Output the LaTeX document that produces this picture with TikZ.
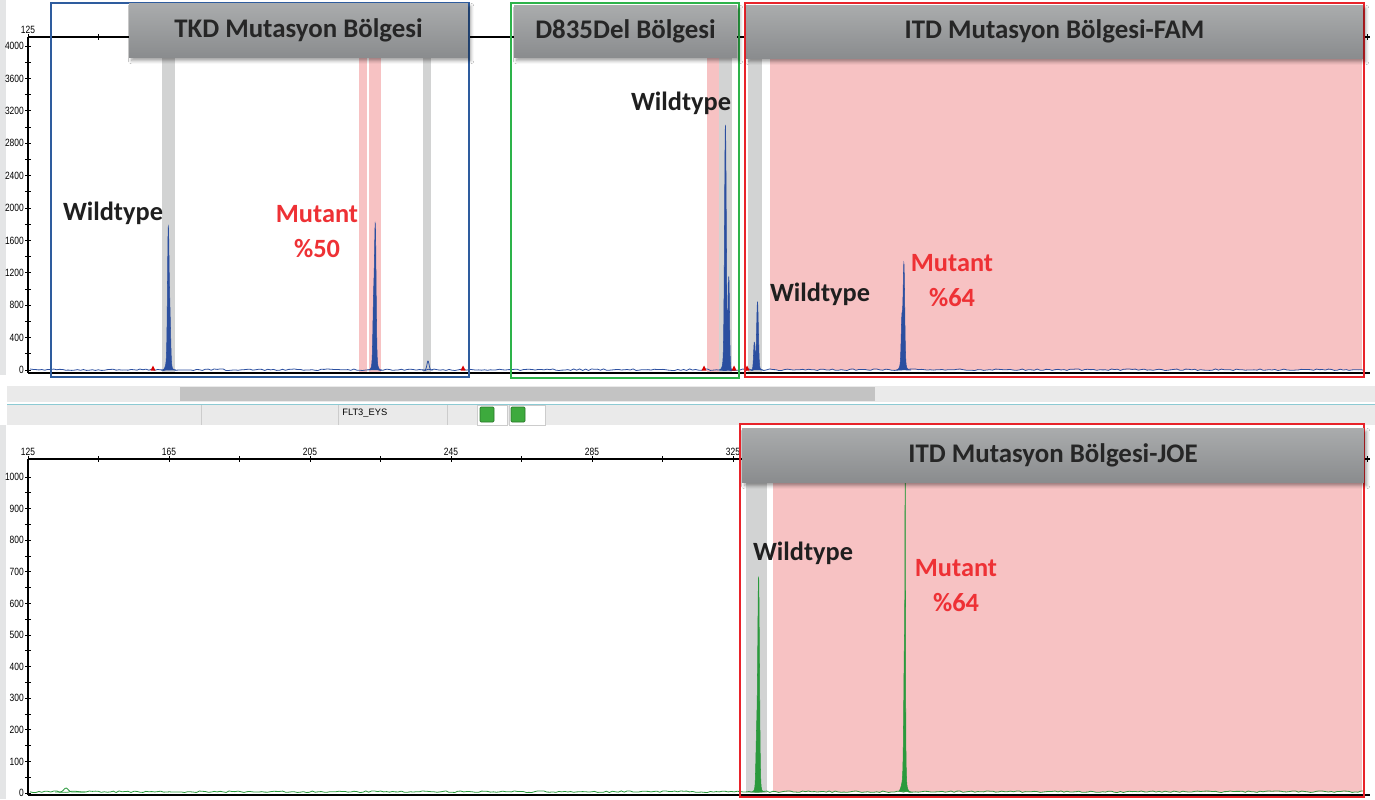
\documentclass[tikz,border=0pt]{standalone}
\usepackage{fontspec}
\setmainfont{Carlito}
\newfontfamily\axisfont[FakeStretch=0.8]{Liberation Sans}
\newfontfamily\barfont{Liberation Sans}
\usetikzlibrary{shadows.blur, positioning}
\definecolor{famBlue}{HTML}{2B4FA0}
\definecolor{joeGreen}{HTML}{2A9A3C}
\definecolor{tkdBlue}{HTML}{2E5C9E}
\definecolor{dGreen}{HTML}{2DB34A}
\definecolor{itdRed}{HTML}{E8232A}
\definecolor{bandPink}{HTML}{F7C2C3}
\definecolor{bandGrey}{HTML}{D2D3D3}
\definecolor{mutRed}{HTML}{EE3135}
\definecolor{stripGrey}{HTML}{E4E5E6}
\definecolor{scrollGrey}{HTML}{C3C3C3}
\definecolor{panelGrey}{HTML}{EAEAEA}
\definecolor{tealLine}{HTML}{8CCAD3}
\definecolor{sqGreen}{HTML}{3DAA3D}
\definecolor{hdrTop}{HTML}{AAACAD}
\definecolor{hdrBot}{HTML}{8A8C8E}
\tikzset{
  axisline/.style  = {line width=0.6pt, black},
  tickmark/.style  = {line width=0.4pt, black},
  ylbl/.style      = {font=\axisfont\fontsize{6}{7}\selectfont, anchor=east, inner sep=0.5pt},
  xlbl/.style      = {font=\axisfont\fontsize{6}{7}\selectfont, anchor=south, inner sep=0.5pt},
  famtrace/.style  = {famBlue, line width=0.45pt},
  fampeak/.style   = {fill=famBlue, draw=famBlue, line width=0.3pt},
  joetrace/.style  = {joeGreen, line width=0.45pt},
  joepeak/.style   = {fill=joeGreen, draw=joeGreen, line width=0.3pt},
  pinkband/.style  = {fill=bandPink},
  greyband/.style  = {fill=bandGrey},
  regionbox/.style = {line width=1.4pt},
  redtri/.style    = {fill=red!85!black},
  hdr/.style       = {top color=hdrTop, bottom color=hdrBot, text=black!85,
                      font=\bfseries\fontsize{15.3}{18}\selectfont, inner sep=0pt,
                      blur shadow={shadow blur steps=6, shadow xshift=1.5pt,
                                   shadow yshift=-2pt, shadow opacity=40}},
  lbl/.style       = {font=\bfseries\fontsize{15}{18}\selectfont, text=black!88, inner sep=0pt},
  mlbl/.style      = {lbl, text=mutRed},
  sqbox/.style     = {fill=white, draw=black!20, line width=0.4pt},
  sqgreen/.style   = {fill=sqGreen, draw=sqGreen!70!black, line width=0.4pt, rounded corners=0.6pt},
}
\begin{document}
\begin{tikzpicture}[x=0.02cm, y=-0.02cm,
  declare function={gp(\t,\c,\s)=exp(-((\t-\c)*(\t-\c))/(\s*\s));}]
  \useasboundingbox (0,0) rectangle (1375,799);
  \fill[white] (0,0) rectangle (1375,799);
  % left strip and middle bars
  \fill[stripGrey] (0,0) rectangle (6,375);
  \fill[stripGrey] (0,425) rectangle (6,799);
  \fill[panelGrey] (7,386) rectangle (1375,402);
  \fill[scrollGrey] (180,387) rectangle (875,401);
  \fill[tealLine] (7,403.5) rectangle (1375,405);
  \fill[panelGrey] (7,405) rectangle (1375,425);
  \foreach \sx in {201,338,447}
    \draw[black!20, line width=0.4pt] (\sx,405) -- (\sx,425);
  \node[font=\barfont\fontsize{5.3}{6}\selectfont, anchor=west, inner sep=0pt] (chanName) at (342,413) {FLT3\_EYS};
  \draw[sqbox] (477,405) rectangle (507,425);
  \draw[sqbox] (509,405) rectangle (545,425);
  \filldraw[sqgreen] (480,407) rectangle (494,422);
  \filldraw[sqgreen] (511,407) rectangle (525,422);

  % bins, top panel
  \fill[greyband] (162,37) rectangle (175,372);
  \fill[pinkband] (359,37) rectangle (367,372);
  \fill[pinkband] (369,37) rectangle (381,372);
  \fill[greyband] (423,37) rectangle (431,372);
  \fill[pinkband] (707,37) rectangle (719,372);
  \fill[greyband] (719,37) rectangle (732,372);
  \fill[greyband] (748,37) rectangle (762,372);
  \fill[pinkband] (770,37) rectangle (1362,370);
  % bins, bottom panel
  \fill[greyband] (746,459) rectangle (767,793);
  \fill[pinkband] (773,459) rectangle (1362,792);

  % top axes
  \draw[axisline] (28,37) -- (1370,37);
  \draw[axisline] (28,373) -- (1370,373);
  \draw[axisline] (28,37) -- (28,373);
  \foreach \tx in {28,98.5,...,1370}
    \draw[tickmark] (\tx,34) -- (\tx,40);
  \node[xlbl] (topX) at (28,35) {125};
  \foreach \v [count=\k from 0] in {0,400,...,4000} {
    \draw[tickmark] (25,370-32.4*\k) -- (31,370-32.4*\k);
    \node[ylbl] (topY\k) at (25,370-32.4*\k) {\v};
  }
  \foreach \k in {0,...,9}
    \draw[tickmark] (25,370-32.4*\k-16.2) -- (31,370-32.4*\k-16.2);

  % bottom axes
  \draw[axisline] (28,459) -- (1370,459);
  \draw[axisline] (28,795) -- (1370,795);
  \draw[axisline] (28,459) -- (28,795);
  \foreach \tx in {28,98.5,...,1370}
    \draw[tickmark] (\tx,456) -- (\tx,462);
  \foreach \v [count=\k from 0] in {125,165,...,325}
    \node[xlbl] (botX\k) at (28+141*\k,457) {\v};
  \foreach \v [count=\k from 0] in {0,100,...,1000} {
    \draw[tickmark] (25,793-31.6*\k) -- (31,793-31.6*\k);
    \node[ylbl] (botY\k) at (25,793-31.6*\k) {\v};
  }
  \foreach \k in {0,...,9}
    \draw[tickmark] (25,793-31.6*\k-15.8) -- (31,793-31.6*\k-15.8);

  % traces
  \pgfmathsetseed{11}
  \draw[famtrace] plot[domain=30:1364, samples=450] (\x, {370.5-1.6*rnd});
  \draw[joetrace] plot[domain=30:1364, samples=450] (\x, {792.5-1.6*rnd});
  \draw[joetrace] plot[domain=55:85, samples=30] (\x, {792-4*gp(\x,66,3)});
  \fill[fampeak] plot[domain=161:176, samples=110]
    (\x, {370-128*gp(\x,168.3,1.1)-40*gp(\x,170,1.0)-14*gp(\x,168.5,2.8)}) -- cycle;
  \fill[fampeak] plot[domain=368:382, samples=110]
    (\x, {370-130*gp(\x,375.3,1.1)-55*gp(\x,373.6,1.0)-14*gp(\x,374.8,2.8)}) -- cycle;
  \draw[famtrace] plot[domain=422:433, samples=40] (\x, {370-9*gp(\x,428,1.5)});
  \fill[fampeak] plot[domain=719:734, samples=120]
    (\x, {370-226*gp(\x,725.4,1.2)-85*gp(\x,728.8,1.0)-20*gp(\x,726,3)}) -- cycle;
  \fill[fampeak] plot[domain=750:763, samples=90]
    (\x, {370-64*gp(\x,757.5,1.2)-26*gp(\x,754.3,1.0)-4*gp(\x,757,3)}) -- cycle;
  \fill[fampeak] plot[domain=896:911, samples=110]
    (\x, {370-95*gp(\x,903.9,1.1)-42*gp(\x,901.9,1.0)-12*gp(\x,903,3)}) -- cycle;
  \fill[joepeak] plot[domain=752:765, samples=100]
    (\x, {792-205*gp(\x,758.6,1.2)-45*gp(\x,756.6,1.0)-10*gp(\x,758,3)}) -- cycle;
  \fill[joepeak] plot[domain=899:911, samples=200]
    (\x, {792-210*gp(\x,905.2,0.35)-140*gp(\x,904.6,1.1)-15*gp(\x,904,3)}) -- cycle;

  % bin markers
  \foreach \mx in {153,463,704,734,747}
    \fill[redtri] (\mx-2.5,370.5) -- (\mx+2.5,370.5) -- (\mx,365.5) -- cycle;

  % region frames
  \draw[regionbox, tkdBlue] (51,3) rectangle (469,377);
  \draw[regionbox, dGreen] (511,3) rectangle (739,378);
  \draw[regionbox, itdRed] (745,3) rectangle (1364,377);
  \draw[regionbox, itdRed] (740,424) rectangle (1364,797);

  % headers
  \node[hdr, minimum width=6.78cm, minimum height=1.08cm] (hdrTKD) at (298.5,30) {TKD Mutasyon Bölgesi};
  \node[hdr, minimum width=4.46cm, minimum height=1.04cm] (hdrDel) at (625.5,31) {D835Del Bölgesi};
  \node[hdr, minimum width=12.34cm, minimum height=1.06cm] (hdrFAM) at (1054.5,31.5) {ITD Mutasyon Bölgesi-FAM};
  \node[hdr, minimum width=12.44cm, minimum height=1.08cm] (hdrJOE) at (1053,455) {ITD Mutasyon Bölgesi-JOE};

  % peak labels
  \node[lbl] (wtTKD) at (113,213) {Wildtype};
  \node[mlbl] (mutTKD) at (317,214) {Mutant};
  \node[mlbl, below=9pt of mutTKD.south] (pctTKD) {\%50};
  \node[lbl] (wtDel) at (681,103) {Wildtype};
  \node[lbl] (wtFAM) at (820,294) {Wildtype};
  \node[mlbl] (mutFAM) at (952,263) {Mutant};
  \node[mlbl, below=9pt of mutFAM.south] (pctFAM) {\%64};
  \node[lbl] (wtJOE) at (803,553) {Wildtype};
  \node[mlbl] (mutJOE) at (956,568) {Mutant};
  \node[mlbl, below=9pt of mutJOE.south] (pctJOE) {\%64};
\end{tikzpicture}
\end{document}
